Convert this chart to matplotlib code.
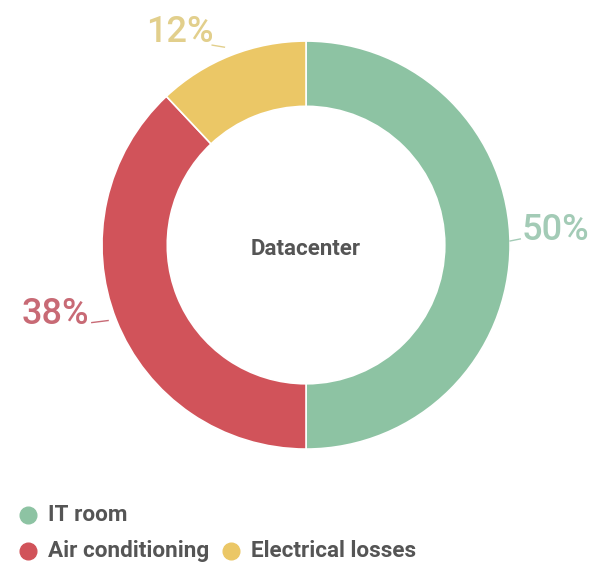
import matplotlib.pyplot as plt
from matplotlib.lines import Line2D

plt.rcParams['font.family'] = ['Roboto', 'DejaVu Sans']

# Data
categories = ['IT room', 'Air conditioning', 'Electrical losses']
shares = [50, 38, 12]
colors = ['#8dc3a3', '#d1535a', '#ebc766']
label_colors = ['#a3cbb6', '#c86a75', '#e2cf8c']

fig = plt.figure(figsize=(5.94, 5.67), dpi=100)
ax = fig.add_axes([0.1717, 0.208, 0.687, 0.7196])

ax.pie(shares, colors=colors, startangle=90, counterclock=False, radius=1,
       wedgeprops=dict(width=0.32, edgecolor='white', linewidth=1.2))
ax.set_xlim(-1, 1)
ax.set_ylim(-1, 1)
ax.set_aspect('auto')
ax.axis('off')

ax.text(0, -0.02, 'Datacenter', ha='center', va='center', fontsize=16,
        fontweight='bold', color='#555555')

# Percentage labels with short leader lines
label_pos = [(1.22, 0.07), (-1.23, -0.34), (-0.62, 1.04)]
leaders = [((1.0, 0.02), (1.05, 0.03)), ((-0.97, -0.37), (-1.05, -0.38)),
           ((-0.46, 0.98), (-0.40, 0.97))]
for share, pos, lead, c in zip(shares, label_pos, leaders, label_colors):
    ax.text(pos[0], pos[1], f'{share}%', ha='center', va='center',
            fontsize=26, fontweight='medium', color=c, clip_on=False)
    ax.plot([lead[0][0], lead[1][0]], [lead[0][1], lead[1][1]], color=c,
            lw=1, clip_on=False)

# Legend
legend_items = [(0, 28, 515), (1, 28, 551), (2, 231, 551)]
for idx, px, py in legend_items:
    fx, fy = px / 594, 1 - py / 567
    fig.add_artist(Line2D([fx], [fy], marker='o', markersize=12,
                          color=colors[idx], transform=fig.transFigure))
    fig.text(fx + 20 / 594, fy, categories[idx], ha='left', va='center',
             fontsize=16.2, fontweight='bold', color='#555555')

fig.savefig('out.png', dpi=100, facecolor='white')
